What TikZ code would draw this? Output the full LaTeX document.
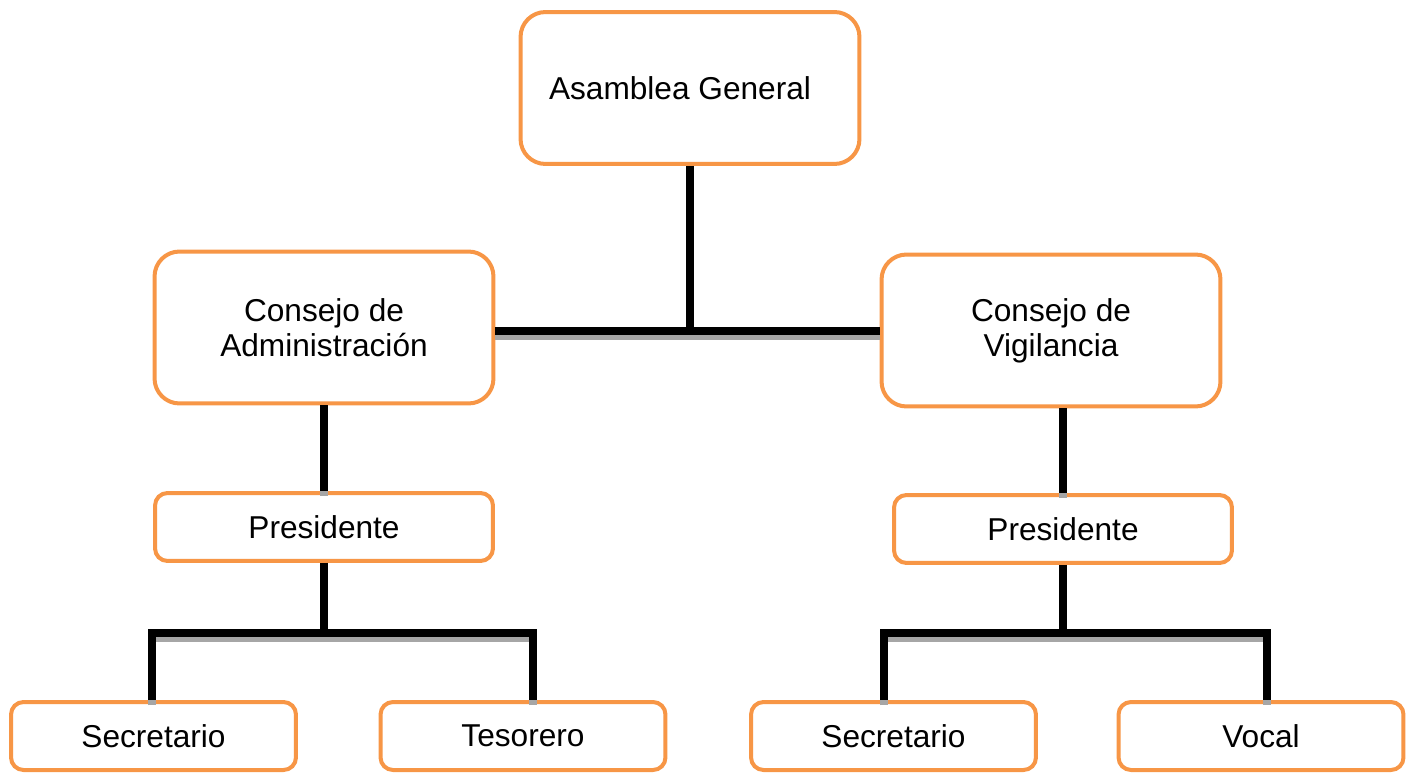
\documentclass[tikz,border=0pt]{standalone}
\usepackage{fontspec}
\setmainfont{Liberation Sans}
\definecolor{boxorange}{HTML}{F79646}
\tikzset{
  orgbox/.style={draw=boxorange, line width=0.08cm, fill=white, align=center,
    font=\fontsize{18}{20}\selectfont, inner sep=0pt},
  bigbox/.style={orgbox, rounded corners=0.5cm, minimum width=6.78cm, minimum height=3.04cm},
  smallbox/.style={orgbox, rounded corners=0.25cm, minimum width=6.76cm, minimum height=1.36cm},
  leafbox/.style={orgbox, rounded corners=0.25cm, minimum width=5.7cm, minimum height=1.36cm},
  conn/.style={line width=0.16cm, black,
    preaction={draw, line width=0.16cm, gray!70, transform canvas={yshift=-0.1cm}}}
}
\begin{document}
\begin{tikzpicture}[x=0.02cm,y=-0.02cm]
\useasboundingbox (0,0) rectangle (1415,773);
\node[bigbox] (ag) at (690,88) {Asamblea General\hspace*{0.4cm}};
\node[bigbox] (ca) at (324,327.5) {Consejo de\\Administración};
\node[bigbox] (cv) at (1051,330.5) {Consejo de\\Vigilancia};
\node[smallbox] (pa) at (324,527) {Presidente};
\node[smallbox] (pv) at (1063,529) {Presidente};
\node[leafbox] (sa) at (153.5,736) {Secretario};
\node[leafbox] (te) at (523,736) {Tesorero};
\node[leafbox] (sv) at (893.5,736) {Secretario};
\node[leafbox] (vo) at (1261,736) {Vocal};
\coordinate (jt) at (690,331);
\coordinate (ja) at ([yshift=-1.4cm]pa.south);
\coordinate (jv) at ([yshift=-1.36cm]pv.south);
\draw[conn] (ag.south) -- (ag.south |- jt);
\draw[conn] (ca.east |- jt) -- (cv.west |- jt);
\draw[conn] (ca.south) -- (pa.north);
\draw[conn] (pv.north |- cv.south) -- (pv.north);
\draw[conn] (pa.south) -- (ja);
\draw[conn] ([xshift=-0.03cm]sa.north) |- (ja) -| ([xshift=0.2cm]te.north);
\draw[conn] (pv.south) -- (jv);
\draw[conn] ([xshift=-0.19cm]sv.north) |- (jv) -| ([xshift=0.12cm]vo.north);
\end{tikzpicture}
\end{document}
